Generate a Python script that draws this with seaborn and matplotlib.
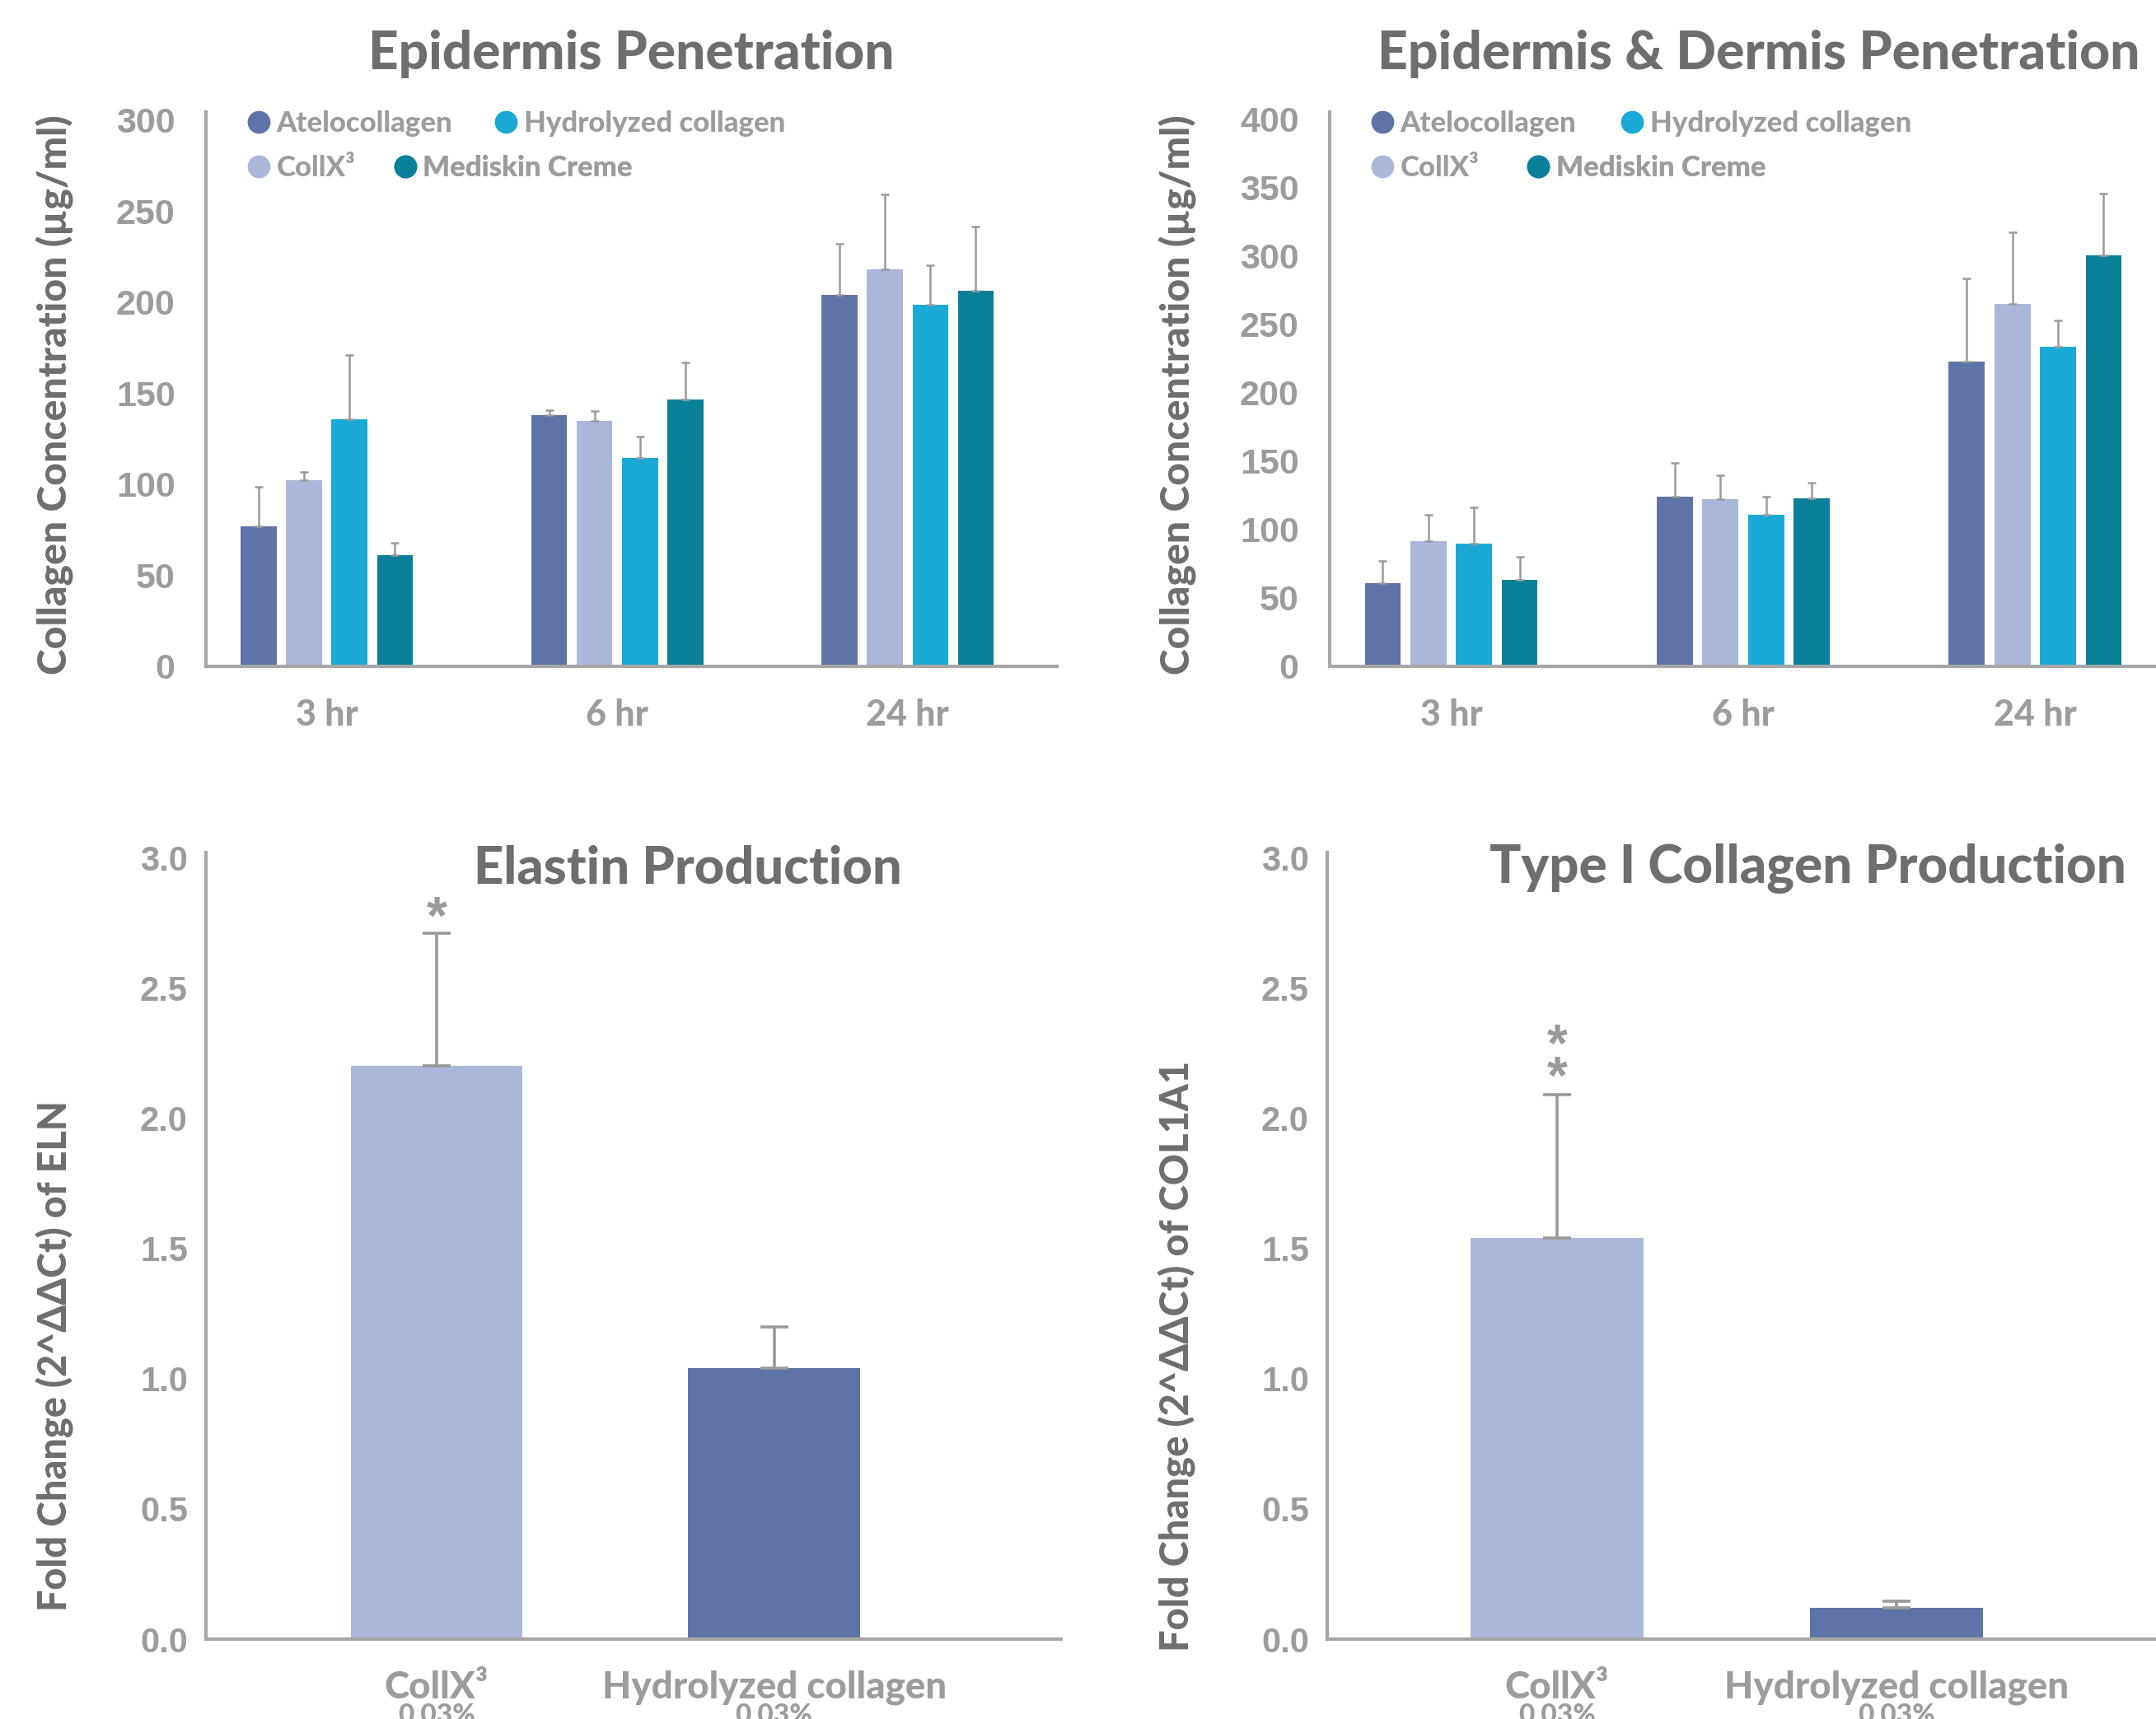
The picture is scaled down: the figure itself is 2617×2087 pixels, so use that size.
import numpy as np
import pandas as pd
import matplotlib
matplotlib.use("Agg")
import matplotlib.pyplot as plt
import seaborn as sns
from matplotlib.lines import Line2D
from matplotlib.container import BarContainer

# ---------------- data ----------------
times = ["3 hr", "6 hr", "24 hr"]
products = ["Atelocollagen", "CollX³", "Hydrolyzed collagen", "Mediskin Creme"]
colors = ["#5F74A6", "#ABB7DA", "#1AA9D6", "#0A7F98"]

# Epidermis penetration (µg/ml)
epi_atelo = [76.9, 137.9, 203.9]
epi_collx = [102.0, 134.7, 218.0]
epi_hydro = [135.5, 114.2, 198.7]
epi_medi = [61.2, 146.6, 206.0]
epi_atelo_err = [21.8, 2.6, 28.0]
epi_collx_err = [4.7, 5.3, 41.3]
epi_hydro_err = [35.5, 12.1, 21.6]
epi_medi_err = [6.6, 20.3, 35.4]

# Epidermis & dermis penetration (µg/ml)
derm_atelo = [60.7, 124.3, 223.1]
derm_collx = [91.5, 122.4, 265.2]
derm_hydro = [89.7, 110.6, 233.8]
derm_medi = [63.4, 122.7, 300.4]
derm_atelo_err = [16.3, 24.4, 60.7]
derm_collx_err = [19.6, 17.2, 52.4]
derm_hydro_err = [26.8, 13.4, 19.1]
derm_medi_err = [16.6, 11.5, 45.4]

# Gene expression (fold change)
gene_labels = ["CollX³", "Hydrolyzed collagen"]
gene_sublabel = "0.03%"
gene_colors = ["#ABB7DA", "#5F74A6"]
eln_vals = [2.20, 1.04]
eln_err = [0.51, 0.16]
eln_stars = ["*", ""]
col1a1_vals = [1.54, 0.12]
col1a1_err = [0.55, 0.025]
col1a1_stars = ["*\n*", ""]

# ---------------- style ----------------
sns.set_theme(style="white")
plt.rcParams["font.family"] = ["Lato", "DejaVu Sans"]

HEAVY = 900
TITLE_C = "#6E6E6E"
LABEL_C = "#6E6E6E"
TICK_C = "#9C9C9C"
SPINE_C = "#A6A6A6"
ERR_C = "#9A9A9A"

W, H = 2617, 2087
fig = plt.figure(figsize=(W / 100, H / 100), dpi=100)


def px_axes(l, r, top, bottom):
    return fig.add_axes([l / W, 1 - bottom / H, (r - l) / W, (bottom - top) / H])


ax_tl = px_axes(250, 1283, 136, 809)
ax_tr = px_axes(1614, 2620, 136, 809)
ax_bl = px_axes(250, 1288, 1035, 1990)
ax_br = px_axes(1611, 2620, 1035, 1990)

fits = []


def bar_containers(ax):
    return [c for c in ax.containers if isinstance(c, BarContainer)]


def style_axes(ax, num_font_size, ypad):
    for s in ["top", "right"]:
        ax.spines[s].set_visible(False)
    for s in ["left", "bottom"]:
        ax.spines[s].set_color(SPINE_C)
        ax.spines[s].set_linewidth(3)
    ax.tick_params(axis="both", length=0)
    ax.tick_params(axis="y", pad=ypad)
    for lab in ax.get_yticklabels():
        lab.set_fontfamily("Liberation Sans")
        lab.set_fontweight("bold")
        lab.set_fontsize(num_font_size)
        lab.set_color(TICK_C)
    ax.grid(False)
    ax.set_xlabel("")


def grouped_panel(ax, vals, errs, ylim, yticks, title, title_x, ylabel,
                  xlim, legend_pos):
    rows = []
    for p, v in zip(products, vals):
        for t, vv in zip(times, v):
            rows.append({"time": t, "product": p, "value": vv})
    df = pd.DataFrame(rows)
    sns.barplot(data=df, x="time", y="value", hue="product", order=times,
                hue_order=products, palette=colors, saturation=1,
                width=0.625, gap=0.21, errorbar=None, legend=False,
                linewidth=0, ax=ax)
    conts = bar_containers(ax)
    for ci, cont in enumerate(conts):
        bars = sorted(list(cont.patches), key=lambda b: b.get_x())
        for bi, bar in enumerate(bars):
            x = bar.get_x() + bar.get_width() / 2
            h = bar.get_height()
            ax.errorbar(x, h, yerr=[[0], [errs[ci][bi]]], fmt="none",
                        ecolor=ERR_C, elinewidth=1.8, capsize=3.5,
                        capthick=1.8)
    ax.set_ylim(*ylim)
    ax.set_xlim(*xlim)
    ax.set_yticks(yticks)
    ax.set_yticklabels([str(v) for v in yticks])
    style_axes(ax, 31, 27)
    ax.tick_params(axis="x", pad=28)
    for lab in ax.get_xticklabels():
        lab.set_fontweight(HEAVY)
        lab.set_fontsize(31)
        lab.set_color(TICK_C)
    t = ax.text(title_x, 1.077, title[0], transform=ax.transAxes, ha="center",
                va="baseline", fontsize=40, fontweight=HEAVY, color=TITLE_C)
    fits.append((t, title[1]))
    ax.set_ylabel(ylabel[0], fontsize=32, fontweight=HEAVY, color=LABEL_C)
    ax.yaxis.set_label_coords(ylabel[1], ylabel[2])
    ax.yaxis.label.set_verticalalignment("center")
    fits.append((ax.yaxis.label, ylabel[3]))
    # legend: one entry per legend so rows flow like the original
    order_rows = [0, 2, 1, 3]
    for pi, (lx, ly) in zip(order_rows, legend_pos):
        h = Line2D([], [], marker="o", ls="", color=colors[pi], markersize=19)
        leg = ax.legend(handles=[h], labels=[products[pi]], loc="center left",
                        bbox_to_anchor=(lx, ly), bbox_transform=ax.transAxes,
                        frameon=False, borderpad=0, borderaxespad=0,
                        handlelength=1.0, handletextpad=0.12,
                        prop={"family": ["Lato", "DejaVu Sans"],
                              "weight": HEAVY, "size": 25})
        for tx in leg.get_texts():
            tx.set_color(TICK_C)
        ax.add_artist(leg)


def gene_panel(ax, vals, errs, stars, title, title_x, ylabel, xlim, star_y):
    df = pd.DataFrame({"product": gene_labels, "value": vals})
    sns.barplot(data=df, x="product", y="value", hue="product",
                order=gene_labels, hue_order=gene_labels, palette=gene_colors,
                saturation=1, width=0.509, errorbar=None, legend=False,
                linewidth=0, ax=ax)
    conts = bar_containers(ax)
    for cont in conts:
        for bar in cont.patches:
            x = bar.get_x() + bar.get_width() / 2
            i = int(round(x))
            ax.errorbar(x, bar.get_height(), yerr=[[0], [errs[i]]], fmt="none",
                        ecolor=ERR_C, elinewidth=2.6, capsize=12, capthick=2.6)
            if stars[i]:
                ax.text(x, star_y[i], stars[i], ha="center", va="center",
                        fontsize=46, fontweight="bold", color=ERR_C,
                        family="Liberation Sans", linespacing=0.55)
    ax.set_ylim(0, 3.02)
    ax.set_xlim(*xlim)
    yt = [0.0, 0.5, 1.0, 1.5, 2.0, 2.5, 3.0]
    ax.set_yticks(yt)
    ax.set_yticklabels([f"{v:.1f}" for v in yt])
    style_axes(ax, 30, 16)
    ax.tick_params(axis="x", pad=27)
    for lab in ax.get_xticklabels():
        lab.set_fontweight(HEAVY)
        lab.set_fontsize(30)
        lab.set_color(TICK_C)
    for i in range(len(gene_labels)):
        ax.annotate(gene_sublabel, xy=(i, 4), xycoords=("data", "figure pixels"),
                    ha="center", va="center", fontsize=24, fontweight=HEAVY,
                    color=TICK_C, annotation_clip=False)
    t = ax.text(title_x, 0.961, title[0], transform=ax.transAxes, ha="center",
                va="baseline", fontsize=40, fontweight=HEAVY, color=TITLE_C)
    fits.append((t, title[1]))
    ax.set_ylabel(ylabel[0], fontsize=32, fontweight=HEAVY, color=LABEL_C)
    ax.yaxis.set_label_coords(ylabel[1], ylabel[2])
    ax.yaxis.label.set_verticalalignment("center")
    fits.append((ax.yaxis.label, ylabel[3]))


grouped_panel(ax_tl,
              [epi_atelo, epi_collx, epi_hydro, epi_medi],
              [epi_atelo_err, epi_collx_err, epi_hydro_err, epi_medi_err],
              (0, 304.3), [0, 50, 100, 150, 200, 250, 300],
              ("Epidermis Penetration", 638), 0.5,
              ("Collagen Concentration (µg/ml)", -0.177, 0.49, 681),
              (-0.416, 2.514),
              [(0.0452, 0.9795), (0.3359, 0.9795), (0.0452, 0.8993), (0.2172, 0.8993)])

grouped_panel(ax_tr,
              [derm_atelo, derm_collx, derm_hydro, derm_medi],
              [derm_atelo_err, derm_collx_err, derm_hydro_err, derm_medi_err],
              (0, 405.4), [0, 50, 100, 150, 200, 250, 300, 350, 400],
              ("Epidermis & Dermis Penetration", 926), 0.518,
              ("Collagen Concentration (µg/ml)", -0.183, 0.49, 681),
              (-0.416, 2.422),
              [(0.0466, 0.9795), (0.3476, 0.9795), (0.0466, 0.8993), (0.2344, 0.8993)])

gene_panel(ax_bl, eln_vals, eln_err, eln_stars,
           ("Elastin Production", 519), 0.5636,
           ("Fold Change (2^ΔΔCt) of ELN", -0.176, 0.36, 621),
           (-0.683, 1.85), [2.76, 0])

gene_panel(ax_br, col1a1_vals, col1a1_err, col1a1_stars,
           ("Type I Collagen Production", 771), 0.5785,
           ("Fold Change (2^ΔΔCt) of COL1A1", -0.18, 0.36, 718),
           (-0.676, 1.771), [2.21, 0])

# fit text sizes to the measured lengths of the original
fig.canvas.draw()
renderer = fig.canvas.get_renderer()
for t, target in fits:
    bb = t.get_window_extent(renderer)
    cur = max(bb.width, bb.height)
    t.set_fontsize(t.get_fontsize() * target / cur)

# bottom x labels: fit "Hydrolyzed collagen" to 417 px
for ax in (ax_bl, ax_br):
    labs = ax.get_xticklabels()
    bb = labs[1].get_window_extent(renderer)
    new = labs[1].get_fontsize() * 417 / bb.width
    for lab in labs:
        lab.set_fontsize(new)

fig.savefig("out.png", dpi=100, facecolor="white")
